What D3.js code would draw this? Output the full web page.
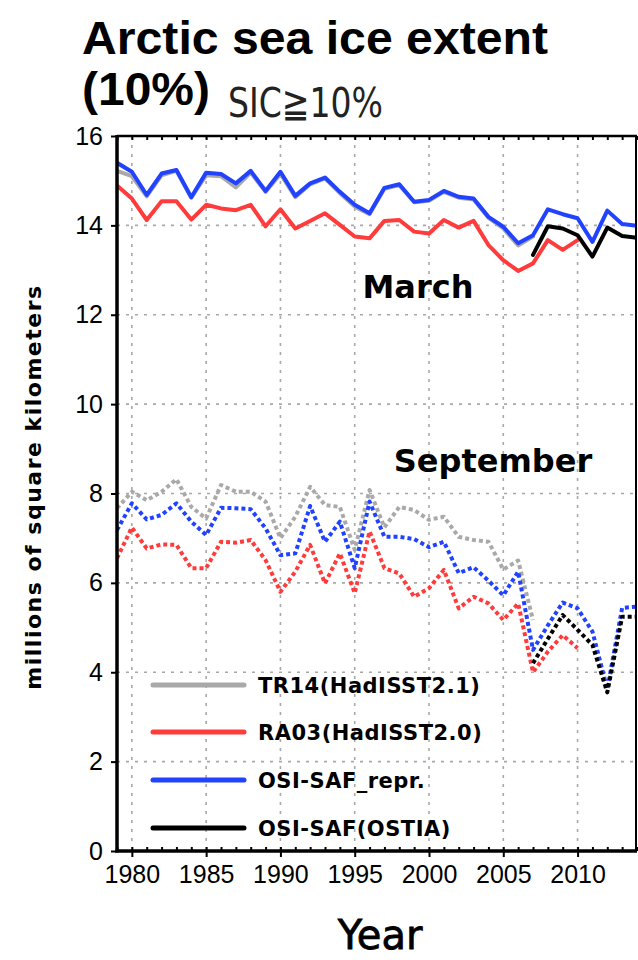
<!DOCTYPE html>
<html><head><meta charset="utf-8">
<script src="https://cdn.jsdelivr.net/npm/d3@7"></script>
<style>
body{margin:0;background:#fff;}
svg{display:block;}
</style></head>
<body>
<svg id="chart" width="638" height="960"></svg>
<script>
const years = d3.range(1979, 2015);
// March
const marchTR14 = [15.22,15.10,14.65,15.12,15.22,14.62,15.12,15.10,14.85,15.18,14.75,15.15,14.63,14.92,15.05,14.72,14.42,14.25,14.82,14.90,14.52,14.55,14.75,14.62,14.58,14.17,13.93,13.55,13.75,null,null,null,null,null,null,null];
const marchRA03 = [14.89,14.60,14.12,14.54,14.54,14.13,14.46,14.38,14.34,14.46,13.98,14.36,13.93,14.10,14.27,14.01,13.75,13.71,14.10,14.12,13.86,13.82,14.12,13.95,14.10,13.56,13.22,12.98,13.15,13.67,13.45,13.67,null,null,null,null];
const marchOSI = [15.40,15.20,14.68,15.16,15.24,14.63,15.18,15.15,14.94,15.22,14.77,15.20,14.66,14.94,15.07,14.75,14.46,14.27,14.84,14.92,14.53,14.57,14.77,14.64,14.60,14.19,13.97,13.60,13.78,14.36,14.25,14.16,13.63,14.33,14.03,13.99];
const marchOSTIA = [null,null,null,null,null,null,null,null,null,null,null,null,null,null,null,null,null,null,null,null,null,null,null,null,null,null,null,null,13.34,13.98,13.93,13.78,13.30,13.95,13.76,13.72];
// September
const septTR14 = [7.67,8.04,7.85,8.04,8.32,7.70,7.44,8.19,8.04,8.04,7.82,7.00,7.48,8.15,7.74,7.70,6.74,8.08,7.24,7.70,7.63,7.41,7.48,7.03,6.96,6.92,6.30,6.50,5.17,null,null,null,null,null,null,null];
const septRA03 = [6.55,7.24,6.77,6.86,6.85,6.33,6.33,6.92,6.90,6.96,6.51,5.80,6.25,6.85,5.99,6.66,5.77,7.15,6.33,6.21,5.69,5.88,6.29,5.43,5.69,5.54,5.17,5.54,4.00,4.46,4.83,4.54,null,null,null,null];
const septOSI = [7.18,7.78,7.42,7.52,7.78,7.37,7.07,7.68,7.67,7.65,7.22,6.62,6.66,7.72,6.92,7.37,6.33,7.82,7.03,7.03,6.98,6.80,6.92,6.22,6.35,6.05,5.72,6.25,4.50,5.05,5.56,5.43,4.91,3.62,5.44,5.47];
const septOSTIA = [null,null,null,null,null,null,null,null,null,null,null,null,null,null,null,null,null,null,null,null,null,null,null,null,null,null,null,null,4.20,4.75,5.28,4.95,4.61,3.55,5.24,5.24];

const xTicks = [1980,1985,1990,1995,2000,2005,2010];
const yTicks = [0,2,4,6,8,10,12,14,16];
const seriesNames = ["TR14(HadISST2.1)","RA03(HadISST2.0)","OSI-SAF_repr.","OSI-SAF(OSTIA)"];
const seriesColors = ["#a9a9a9","#ff3b3b","#2142ff","#000000"];

const svg = d3.select("#chart");
const L = 117, R = 637, T = 136, B = 851;
const x = d3.scaleLinear().domain([1979, 2014]).range([L, R]);
const y = d3.scaleLinear().domain([0, 16]).range([B, T]);

// titles
svg.append("text").attr("x", 82).attr("y", 54)
  .attr("font-family", "Liberation Sans, Arial, sans-serif").attr("font-weight", "bold")
  .attr("font-size", 46).attr("textLength", 466).attr("lengthAdjust", "spacingAndGlyphs")
  .attr("fill", "#000").text("Arctic sea ice extent");
svg.append("text").attr("x", 82).attr("y", 105)
  .attr("font-family", "Liberation Sans, Arial, sans-serif").attr("font-weight", "bold")
  .attr("font-size", 46).attr("textLength", 128).attr("lengthAdjust", "spacingAndGlyphs")
  .attr("fill", "#000").text("(10%)");
svg.append("text").attr("x", 228).attr("y", 117)
  .attr("font-family", "DejaVu Sans Condensed, DejaVu Sans, sans-serif")
  .attr("font-size", 41).attr("textLength", 155).attr("lengthAdjust", "spacingAndGlyphs")
  .attr("fill", "#222").text("SIC≧10%");

// clip
svg.append("defs").append("clipPath").attr("id", "clip")
  .append("rect").attr("x", L).attr("y", T).attr("width", R - L).attr("height", B - T);

// grid
const grid = svg.append("g").attr("stroke", "#a8a8a8").attr("stroke-width", 1.6).attr("stroke-dasharray", "3,6");
grid.selectAll("line.h").data(yTicks.filter(d => d > 0 && d < 16)).join("line")
  .attr("x1", L).attr("x2", R).attr("y1", d => y(d)).attr("y2", d => y(d));
grid.selectAll("line.v").data(xTicks).join("line")
  .attr("x1", d => x(d)).attr("x2", d => x(d)).attr("y1", T).attr("y2", B);

// series
const line = d3.line().defined(d => d[1] != null).x(d => x(d[0])).y(d => y(d[1]));
const plot = svg.append("g").attr("clip-path", "url(#clip)");
const march = [marchTR14, marchRA03, marchOSI, marchOSTIA];
const sept = [septTR14, septRA03, septOSI, septOSTIA];
march.forEach((s, i) => {
  plot.append("path").datum(years.map((yr, j) => [yr, s[j]]))
    .attr("d", line).attr("fill", "none").attr("stroke", seriesColors[i])
    .attr("stroke-width", 4).attr("stroke-linejoin", "round").attr("stroke-linecap", "round");
});
sept.forEach((s, i) => {
  plot.append("path").datum(years.map((yr, j) => [yr, s[j]]))
    .attr("d", line).attr("fill", "none").attr("stroke", seriesColors[i])
    .attr("stroke-width", 4).attr("stroke-dasharray", "4,3").attr("stroke-linejoin", "round");
});

// axes
const font = "Liberation Sans Narrow, Liberation Sans, Arial, sans-serif";
const xAxis = svg.append("g").attr("transform", `translate(0,${B})`)
  .call(d3.axisBottom(x).tickValues(xTicks).tickSize(6).tickPadding(8).tickFormat(d3.format("d")));
xAxis.select(".domain").remove();
xAxis.selectAll("line").attr("stroke", "#000").attr("stroke-width", 2);
xAxis.selectAll("text").attr("font-family", font).attr("font-size", 25).attr("fill", "#000");

const xMinor = svg.append("g").attr("transform", `translate(0,${B})`)
  .call(d3.axisBottom(x).tickValues(years).tickSize(-4).tickFormat(""));
xMinor.select(".domain").remove();
xMinor.selectAll("line").attr("stroke", "#000").attr("stroke-width", 2);
const xTop = svg.append("g").attr("transform", `translate(0,${T})`)
  .call(d3.axisTop(x).tickValues(years).tickSize(-4).tickFormat(""));
xTop.select(".domain").remove();
xTop.selectAll("line").attr("stroke", "#000").attr("stroke-width", 2);

const yAxis = svg.append("g").attr("transform", `translate(${L},0)`)
  .call(d3.axisLeft(y).tickValues(yTicks).tickSize(6).tickPadding(8).tickFormat(d3.format("d")));
yAxis.select(".domain").remove();
yAxis.selectAll("line").attr("stroke", "#000").attr("stroke-width", 2);
yAxis.selectAll("text").attr("font-family", font).attr("font-size", 25).attr("fill", "#000");

// frame
svg.append("line").attr("x1", L).attr("x2", L).attr("y1", T - 1).attr("y2", B + 1.5).attr("stroke", "#000").attr("stroke-width", 3.5);
svg.append("line").attr("x1", L - 1.5).attr("x2", R).attr("y1", B).attr("y2", B).attr("stroke", "#000").attr("stroke-width", 3.5);
svg.append("line").attr("x1", L).attr("x2", R).attr("y1", T).attr("y2", T).attr("stroke", "#000").attr("stroke-width", 2.5);
svg.append("line").attr("x1", R - 1).attr("x2", R - 1).attr("y1", T).attr("y2", B).attr("stroke", "#000").attr("stroke-width", 2);

// month labels
const lab = "DejaVu Sans, sans-serif";
svg.append("text").attr("x", 418).attr("y", 298).attr("text-anchor", "middle")
  .attr("font-family", lab).attr("font-weight", "bold").attr("font-size", 32).text("March");
svg.append("text").attr("x", 493).attr("y", 472).attr("text-anchor", "middle")
  .attr("font-family", lab).attr("font-weight", "bold").attr("font-size", 32).text("September");

// legend
const ly = [685, 732, 780, 828];
const leg = svg.append("g");
seriesNames.forEach((n, i) => {
  leg.append("line").attr("x1", 153).attr("x2", 244).attr("y1", ly[i]).attr("y2", ly[i])
    .attr("stroke", seriesColors[i]).attr("stroke-width", 5).attr("stroke-linecap", "round");
  leg.append("text").attr("x", 258).attr("y", ly[i] + 8).attr("font-family", lab)
    .attr("font-weight", "bold").attr("font-size", 21).attr("letter-spacing", 0.5).attr("fill", "#000").text(n);
});

// axis titles
svg.append("text").attr("transform", "translate(41,487) rotate(-90)").attr("text-anchor", "middle")
  .attr("font-family", lab).attr("font-weight", "bold").attr("font-size", 22).attr("letter-spacing", 1.5)
  .text("millions of square kilometers");
svg.append("text").attr("x", 380).attr("y", 949).attr("text-anchor", "middle")
  .attr("font-family", lab).attr("font-size", 40).attr("fill", "#000")
  .attr("stroke", "#000").attr("stroke-width", 0.8).text("Year");
</script>
</body></html>
